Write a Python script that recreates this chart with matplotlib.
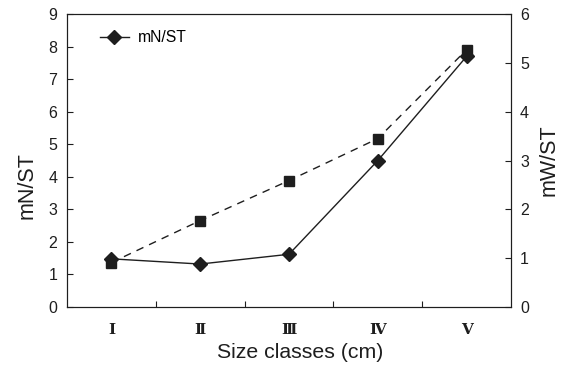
import matplotlib
matplotlib.use('Agg')
import matplotlib.pyplot as plt

# datos
clases = ['Ⅰ', 'Ⅱ', 'Ⅲ', 'Ⅳ', 'Ⅴ']
mn_st = [1.48, 1.32, 1.62, 4.50, 7.70]
mw_st = [0.91, 1.77, 2.59, 3.45, 5.27]

plt.rcParams['font.family'] = ['Liberation Sans', 'DejaVu Sans']
negro = '#1e1e1e'

fig = plt.figure(figsize=(5.63, 3.67), dpi=100)
ax = fig.add_axes([0.119, 0.1635, 0.7886, 0.798])
x = list(range(1, len(clases) + 1))

ax.plot(x, mn_st, color=negro, lw=1.0, marker='D', markersize=6.8, label='mN/ST')
ax.set_xlim(0.5, 5.5)
ax.set_ylim(0, 9)
ax.set_yticks(range(0, 10))
ax.set_xticks([1.5, 2.5, 3.5, 4.5])
ax.set_xticklabels([])
ax.tick_params(axis='both', direction='in', labelsize=11.5, length=4.5, width=0.8,
               pad=7, colors=negro)
for i, c in enumerate(clases):
    ax.text(x[i], -0.71, c, ha='center', va='center', fontsize=11, fontweight='bold',
            family=['DejaVu Serif'], color=negro)
ax.set_ylabel('mN/ST', fontsize=15.5, color=negro)
ax.yaxis.set_label_coords(-0.066, 0.413)
ax.set_xlabel('Size classes (cm)', fontsize=15.3, color=negro)
ax.xaxis.set_label_coords(0.525, -0.123)

ax2 = ax.twinx()
ax2.plot(x, mw_st, color=negro, lw=1.0, ls=(0, (5.5, 4.5)), marker='s', markersize=7.2)
ax2.set_ylim(0, 6)
ax2.set_yticks(range(0, 7))
ax2.tick_params(axis='y', direction='in', labelsize=11.5, length=4.5, width=0.8,
                pad=6.5, colors=negro)
ax2.set_ylabel('mW/ST', fontsize=15.5, color=negro)
ax2.yaxis.set_label_coords(1.063, 0.5)

for a in (ax, ax2):
    for s in a.spines.values():
        s.set_linewidth(0.8)
        s.set_color(negro)

ax.legend(loc='upper left', frameon=False, fontsize=11.3, handlelength=1.85,
          handletextpad=0.57, borderpad=0, borderaxespad=0,
          bbox_to_anchor=(0.074, 0.945))

plt.savefig('out.png', dpi=100)
